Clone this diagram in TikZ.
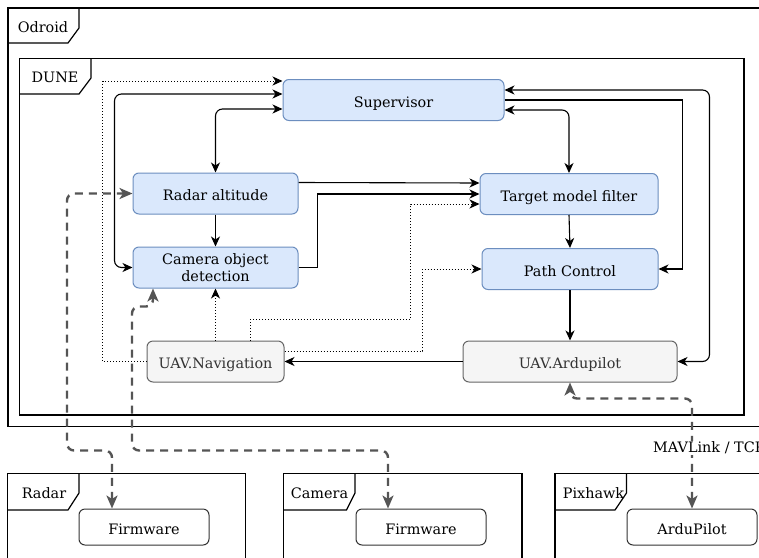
\documentclass[tikz,border=0pt]{standalone}
\usepackage{fontspec}
\setmainfont{DejaVu Serif}
\usepackage{tikz}
\usetikzlibrary{positioning,arrows.meta,calc}
\definecolor{duBlue}{RGB}{218,232,252}
\definecolor{duBlueLine}{RGB}{108,142,191}
\definecolor{duGray}{RGB}{245,245,245}
\definecolor{duGrayLine}{RGB}{102,102,102}
\definecolor{duText}{RGB}{51,51,51}
\definecolor{duLink}{RGB}{85,85,85}
\tikzset{
    base/.style={font=\fontsize{14.4}{17}\selectfont, align=center},
    oneline/.style={text height=14.5pt, text depth=0pt},
    module/.style={base, rectangle, rounded corners=6pt, draw=duBlueLine, line width=1pt,
                   fill=duBlue, inner sep=2pt, minimum height=41pt},
    uavtask/.style={base, oneline, rectangle, rounded corners=6pt, draw=duGrayLine, line width=1pt,
                    fill=duGray, text=duText, inner sep=2pt, minimum height=41pt},
    firmware/.style={base, oneline, rectangle, rounded corners=6pt, draw=duText, line width=1pt,
                     fill=white, inner sep=2pt, minimum width=130pt, minimum height=36pt},
    tabtext/.style={base, inner sep=0pt},
    boxline/.style={line width=1.2pt, black},
    flow/.style={->, >={Stealth[length=10pt,width=9pt,inset=3pt]}, line width=1.1pt, black},
    dotflow/.style={flow, line width=1pt, dash pattern=on 1pt off 2pt},
    hwflow/.style={<->, >={Stealth[length=13pt,width=11pt,inset=3.5pt]}, line width=2.4pt,
                   duLink, dash pattern=on 8pt off 6pt, rounded corners=7pt},
    linklabel/.style={base, fill=white, inner sep=1pt}
}
\begin{document}
\begin{tikzpicture}[x=1pt, y=-1pt]
  \useasboundingbox (0,0) rectangle (759,557);
  \clip (0,0) rectangle (759,557);
  \fill[white] (0,0) rectangle (759,557);

  % Frames
  \draw[boxline] (770,8) -- (8,8) -- (8,426.5) -- (770,426.5);
  \draw[boxline] (8,43) -- (68,43) -- (79,28) -- (79,8);
  \node[tabtext] (odroid) at (43,27.5) {Odroid};
  \draw[boxline] (19.5,58.5) rectangle (744,415);
  \draw[boxline] (19.5,94) -- (79,94) -- (91,78) -- (91,58.5);
  \node[tabtext] (dune) at (55,77) {DUNE};
  \draw[boxline] (7.5,600) -- (7.5,473.5) -- (245.5,473.5) -- (245.5,600);
  \draw[boxline] (7.5,510) -- (68,510) -- (79,493) -- (79,473.5);
  \node[tabtext] (radarhw) at (44,493) {Radar};
  \draw[boxline] (283.5,600) -- (283.5,473.5) -- (522,473.5) -- (522,600);
  \draw[boxline] (283.5,510) -- (346.5,510) -- (355,493) -- (355,473.5);
  \node[tabtext] (camhw) at (319.5,493) {Camera};
  \draw[boxline] (555,600) -- (555,473.5) -- (770,473.5);
  \draw[boxline] (555,510) -- (615,510) -- (626.5,493) -- (626.5,473.5);
  \node[tabtext] (pixhw) at (593.5,493) {Pixhawk};

  % Tasks
  \node[module, oneline, minimum width=221pt] (sup) at (393.5,100) {Supervisor};
  \node[module, oneline, minimum width=165pt] (radar) at (215.5,193.5) {Radar altitude};
  \node[module, minimum width=165pt] (cam) at (215.5,267.5) {Camera object\\detection};
  \node[module, oneline, minimum width=178pt] (tmf) at (569,194) {Target model filter};
  \node[module, oneline, minimum width=176pt] (pc) at (570,269) {Path Control};
  \node[uavtask, minimum width=137pt] (nav) at (215.5,361.5) {UAV.Navigation};
  \node[uavtask, minimum width=214pt] (ardu) at (570,361.5) {UAV.Ardupilot};

  % Hardware
  \node[firmware] (fwradar) at (144,527) {Firmware};
  \node[firmware] (fwcam) at (421,527) {Firmware};
  \node[firmware] (fwpix) at (692,527) {ArduPilot};

  % Messages
  \draw[dotflow] (nav.west) -- ++(-44,0) |- ($(sup.west)+(0,-19)$);
  \draw[flow, <->, rounded corners=7pt] ($(sup.west)+(0,-6)$) -- ++(-168,0) |- (cam.west);
  \draw[flow, <->, rounded corners=7pt] ($(sup.west)+(0,9)$) -| (radar.north);
  \draw[flow] (radar.south) -- (cam.north);
  \draw[flow] ($(radar.east)+(0,-11)$) -- ($(tmf.west)+(0,-11)$);
  \draw[flow] (cam.east) -- ++(19,0) |- (tmf.west);
  \draw[dotflow] ($(nav.north)+(34.5,0)$) -- ++(0,-21) -| ($(tmf.west)+(-69,10)$) -- ($(tmf.west)+(0,10)$);
  \draw[dotflow] ($(nav.east)+(0,-10.5)$) -| ($(pc.west)+(-59,0)$) -- (pc.west);
  \draw[dotflow] (nav.north) -- (cam.south);
  \draw[flow] (ardu.west) -- (nav.east);
  \draw[flow, <->, rounded corners=7pt] ($(sup.east)+(0,10)$) -| (tmf.north);
  \draw[flow] (tmf.south) -- (pc.north);
  \draw[flow] (pc.south) -- (ardu.north);
  \draw[flow] (sup.east) -- ++(178,0) |- (pc.east);
  \draw[flow, <->, rounded corners=7pt] ($(sup.east)+(0,-10)$) -- ++(205,0) |- (ardu.east);

  % Links to hardware
  \draw[hwflow] ($(fwradar.north)+(-32,0)$) -- ++(0,-58) -- ++(-45,0) |- (radar.west);
  \draw[hwflow] ($(fwcam.north)+(-33,0)$) -- ++(0,-58) -- ++(-256,0) -- ++(0,-144)
    -| ($(cam.south)+(-62.5,0)$);
  \draw[hwflow] (fwpix.north) -- ++(0,-110) -| (ardu.south);
  \node[linklabel, anchor=west] (mav) at (652,448) {MAVLink / TCP};
\end{tikzpicture}
\end{document}
